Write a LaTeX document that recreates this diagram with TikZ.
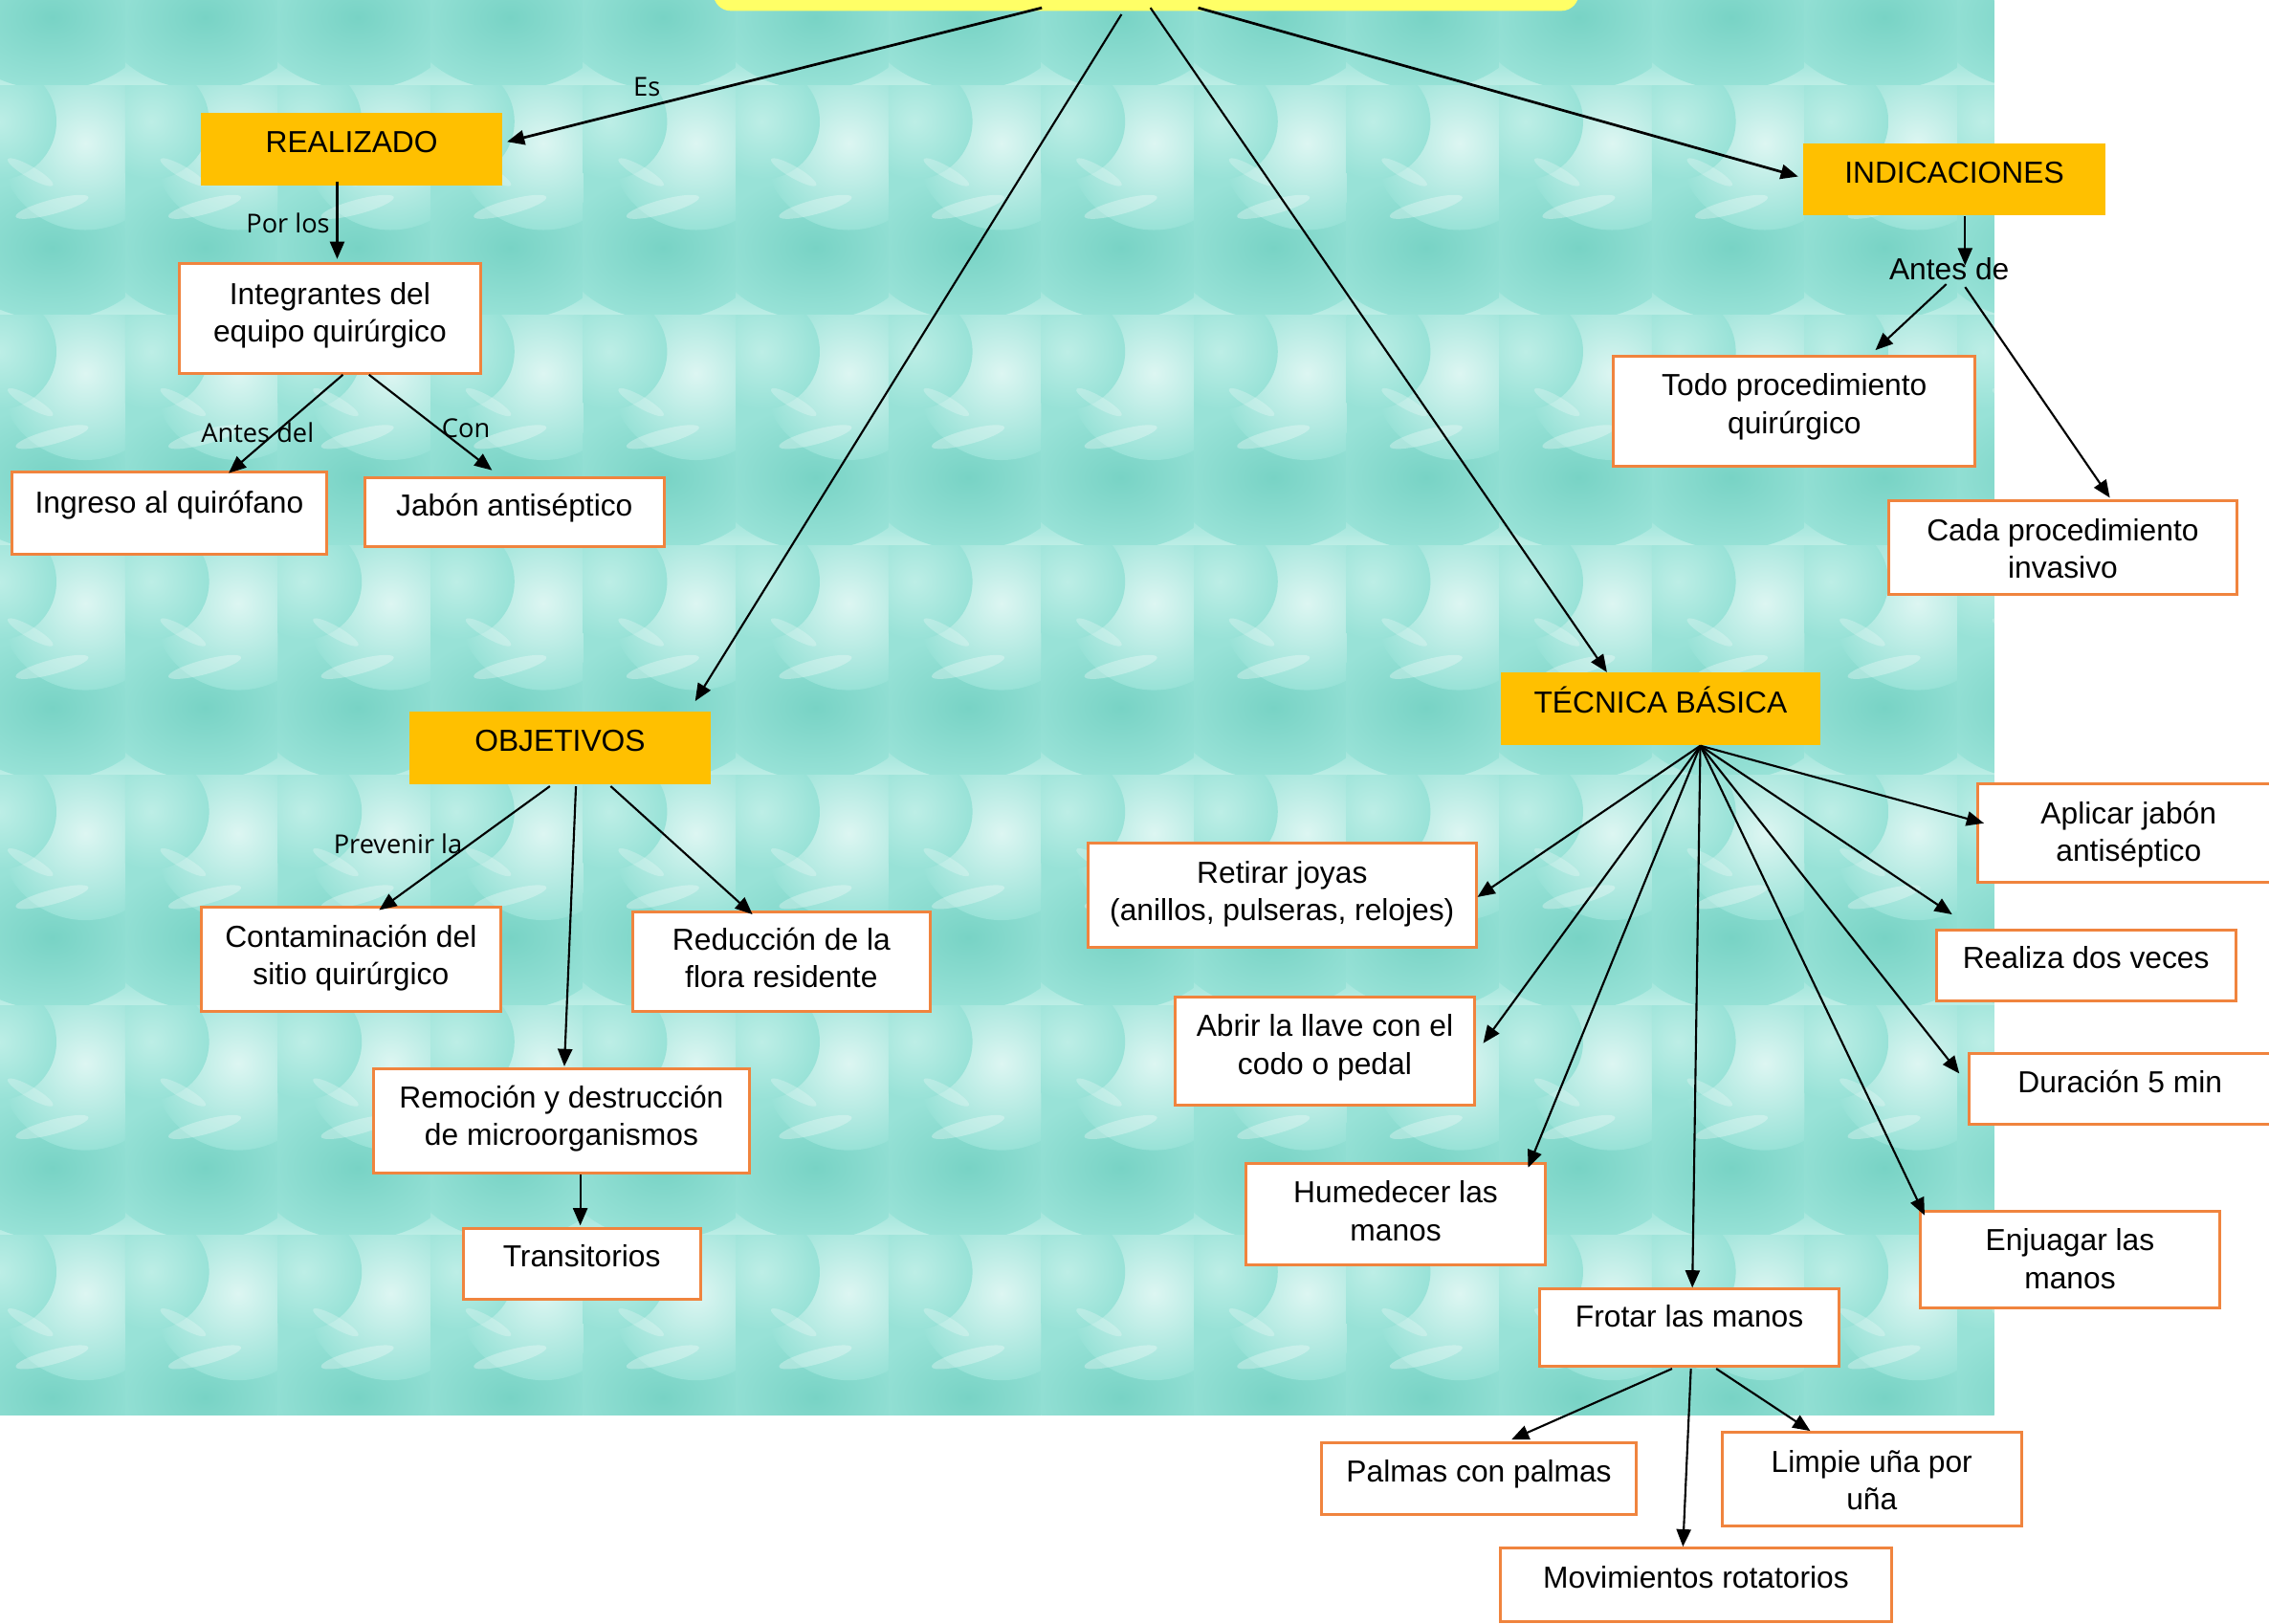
\documentclass[tikz,border=0pt]{standalone}
\usepackage{fontspec}
\setmainfont{Liberation Sans}
\newfontfamily\lblfont{Open Sans}
\usetikzlibrary{arrows.meta,calc}
\definecolor{tealBase}{HTML}{98E2D7}
\definecolor{tealDark}{HTML}{78D3C5}
\definecolor{tealLight}{HTML}{BDEEE6}
\definecolor{tealPale}{HTML}{DDF6F2}
\definecolor{boxorange}{HTML}{F0843E}
\definecolor{headorange}{HTML}{FFC000}
\definecolor{titleyellow}{HTML}{FFFF66}
\tikzset{
  sz/.style 2 args={minimum width=#1*0.5pt, minimum height=#2*0.5pt},
  box/.style={draw=boxorange, line width=1pt, fill=white, inner sep=0pt},
  head/.style={fill=headorange, draw=none, inner sep=0pt},
  txt/.style={font=\fontsize{10.5}{13}\selectfont, align=center, inner sep=0pt, anchor=base},
  lbl/.style={font=\lblfont\fontsize{9}{11}\selectfont, inner sep=0pt},
  arr/.style={-{Triangle[length=6pt,width=5pt]}, line width=0.7pt, black},
  arrthick/.style={arr, line width=0.9pt}
}
\begin{document}
\begin{tikzpicture}[x=0.5pt,y=-0.5pt]
\useasboundingbox (0,0) rectangle (1568,1122);
\fill[white] (0,0) rectangle (1568,1122);
% textured background
\begin{scope}
  \clip (0,0) rectangle (1378,978);
  \fill[tealBase] (0,0) rectangle (1378,978);
  \foreach \i in {0,...,13}{
    \foreach \j in {0,...,6}{
      \pgfmathsetmacro\tx{-19+105.5*\i}
      \pgfmathsetmacro\ty{-100+159*\j}
      \begin{scope}
        \clip (\tx,\ty) rectangle ({\tx+105.5},{\ty+159});
        \fill[tealBase] (\tx,\ty) rectangle ({\tx+105.5},{\ty+159});
        \shade[top color=tealBase, bottom color=tealLight] (\tx,{\ty+135}) rectangle ({\tx+105.5},{\ty+159});
        \shade[inner color=tealDark, outer color=tealBase] ({\tx+55},{\ty+112}) ellipse [x radius=70, y radius=50];
        \shade[inner color=tealPale, outer color=tealBase] ({\tx+78},{\ty+40}) ellipse [x radius=60, y radius=60];
        \shade[inner color=tealLight, outer color=tealBase] ({\tx+18},{\ty+25}) ellipse [x radius=40, y radius=40];
        \fill[white, opacity=0.3, rotate around={15:({\tx+55},{\ty+84})}] ({\tx+55},{\ty+84}) ellipse [x radius=26, y radius=5];
        \fill[white, opacity=0.25, rotate around={-30:({\tx+40},{\ty+60})}] ({\tx+40},{\ty+60}) ellipse [x radius=18, y radius=4];
      \end{scope}
    }
  }
\end{scope}
\begin{scope}
\clip (0,0) rectangle (1568,1122);
% title box (cut off)
\node[head, sz={598}{47}, fill=titleyellow, rounded corners=6pt] (top) at (792,-16) {};

% heading boxes
\node[head, sz={208}{50}] (real) at (243,103) {};
\node[txt] (realt) at (243,105.5) {REALIZADO};
\node[head, sz={209}{50}] (indic) at (1350.5,124) {};
\node[txt] (indict) at (1350.5,126.5) {INDICACIONES};
\node[head, sz={208}{50}] (obj) at (387,517) {};
\node[txt] (objt) at (387,519.5) {OBJETIVOS};
\node[head, sz={221}{50}] (tec) at (1147.5,490) {};
\node[txt] (tect) at (1147.5,492.5) {TÉCNICA BÁSICA};

% white boxes
\node[box, sz={208}{76}] (integ) at (228,220) {};
\node[txt] (integt) at (228,236.5) {Integrantes del\\equipo quirúrgico};
\node[box, sz={218}{57}] (ingreso) at (117,354.5) {};
\node[txt] (ingresot) at (117,354.5) {Ingreso al quirófano};
\node[box, sz={207}{48}] (jabon) at (355.5,354) {};
\node[txt] (jabont) at (355.5,356.5) {Jabón antiséptico};
\node[box, sz={250}{76}] (todo) at (1240,284) {};
\node[txt] (todot) at (1240,299.5) {Todo procedimiento\\quirúrgico};
\node[box, sz={241}{65}] (cada) at (1425.5,378.5) {};
\node[txt] (cadat) at (1425.5,399.5) {Cada procedimiento\\invasivo};
\node[box, sz={207}{72}] (contam) at (242.5,663) {};
\node[txt] (contamt) at (242.5,680.5) {Contaminación del\\sitio quirúrgico};
\node[box, sz={206}{69}] (reduc) at (540,664.5) {};
\node[txt] (reduct) at (540,682.5) {Reducción de la\\flora residente};
\node[box, sz={260}{72}] (remoc) at (388,775) {};
\node[txt] (remoct) at (388,791.5) {Remoción y destrucción\\de microorganismos};
\node[box, sz={164}{49}] (trans) at (402,873.5) {};
\node[txt] (transt) at (402,875.5) {Transitorios};
\node[box, sz={268}{72}] (retir) at (886,619) {};
\node[txt] (retirt) at (886,636.5) {Retirar joyas\\(anillos, pulseras, relojes)};
\node[box, sz={207}{75}] (abrir) at (915.5,726.5) {};
\node[txt] (abrirt) at (915.5,742.5) {Abrir la llave con el\\codo o pedal};
\node[box, sz={207}{70}] (humed) at (964.5,839) {};
\node[txt] (humedt) at (964.5,857.5) {Humedecer las\\manos};
\node[box, sz={207}{53}] (frotar) at (1167.5,917.5) {};
\node[txt] (frotart) at (1167.5,917.5) {Frotar las manos};
\node[box, sz={208}{68}] (aplic) at (1471,576) {};
\node[txt] (aplict) at (1471,595.5) {Aplicar jabón\\antiséptico};
\node[box, sz={207}{49}] (realiza) at (1441.5,667.5) {};
\node[txt] (realizat) at (1441.5,669.5) {Realiza dos veces};
\node[box, sz={208}{49}] (durac) at (1465,752.5) {};
\node[txt] (duract) at (1465,755.5) {Duración 5 min};
\node[box, sz={207}{67}] (enjuag) at (1430.5,870.5) {};
\node[txt] (enjuagt) at (1430.5,890.5) {Enjuagar las\\manos};
\node[box, sz={218}{50}] (palmas) at (1022,1022) {};
\node[txt] (palmast) at (1022,1024.5) {Palmas con palmas};
\node[box, sz={207}{65}] (limpie) at (1293.5,1022.5) {};
\node[txt] (limpiet) at (1293.5,1043.5) {Limpie uña por\\uña};
\node[box, sz={270}{51}] (movim) at (1172,1095.5) {};
\node[txt] (movimt) at (1172,1097.5) {Movimientos rotatorios};

% connector labels
\node[lbl] (les) at (447,60) {Es};
\node[lbl] (lpor) at (199,154) {Por los};
\node[lbl] (lantesdel) at (178,299) {Antes del};
\node[lbl] (lcon) at (322,296) {Con};
\node[lbl] (lprev) at (275,583) {Prevenir la};
\node[txt] (lantesde) at (1347,193.5) {Antes de};

% connectors from title
\draw[arrthick] ($(top.south)+(-72,-2.5)$) -- ($(real.east)+(3,-5)$);
\draw[arr] ($(top.south)+(-17,2)$) -- ($(obj.north east)+(-11,-7)$);
\draw[arr] ($(top.south)+(3,-2.5)$) -- ($(tec.north)+(-37,0)$);
\draw[arrthick] ($(top.south)+(36,-2.5)$) -- ($(indic.west)+(-3,-2)$);

% REALIZADO branch
\draw[arr] ($(real.south)+(-10,-3)$) -- ($(integ.north)+(5,-2)$);
\draw[arr] ($(integ.south)+(9,0)$) -- ($(ingreso.north)+(41,2)$);
\draw[arr] ($(integ.south)+(27,0)$) -- ($(jabon.north)+(-15.5,-4)$);

% INDICACIONES branch
\draw[arr] ($(indic.south)+(7.5,0)$) -- ($(indic.south)+(7.5,34)$);
\draw[arr] ($(indic.south)+(-5.5,47)$) -- ($(todo.north)+(56,-3)$);
\draw[arr] ($(indic.south)+(7.5,49)$) -- ($(cada.north)+(32.5,-1)$);

% OBJETIVOS branch
\draw[arr] ($(obj.south)+(-7,1)$) -- ($(contam.north)+(19.5,3)$);
\draw[arr] ($(obj.south)+(11,1)$) -- ($(remoc.north)+(2,-1)$);
\draw[arr] ($(obj.south)+(35,1)$) -- ($(reduc.north)+(-20,3)$);
\draw[arr] ($(remoc.south)+(13,0)$) -- ($(trans.north)+(-1,-1)$);

% TECNICA BASICA fan
\coordinate (tecs) at ($(tec.south)+(27.5,0)$);
\draw[arr] (tecs) -- ($(retir.east)+(0,1)$);
\draw[arr] (tecs) -- ($(abrir.east)+(5,-5.5)$);
\draw[arr] (tecs) -- ($(humed.north east)+(-13,4)$);
\draw[arr] (tecs) -- ($(frotar.north)+(2,0)$);
\draw[arr] (tecs) -- ($(aplic.west)+(5,-7)$);
\draw[arr] (tecs) -- ($(realiza.north west)+(12,-10)$);
\draw[arr] (tecs) -- ($(durac.west)+(-6,-10.5)$);
\draw[arr] (tecs) -- ($(enjuag.north west)+(4,4)$);

% Frotar branch
\draw[arr] ($(frotar.south)+(-12,1)$) -- ($(palmas.north)+(22.5,-1)$);
\draw[arr] ($(frotar.south)+(1,1)$) -- ($(movim.north)+(-9,0)$);
\draw[arr] ($(frotar.south)+(18.5,1)$) -- ($(limpie.north)+(-42.5,0)$);
\end{scope}
\end{tikzpicture}
\end{document}
